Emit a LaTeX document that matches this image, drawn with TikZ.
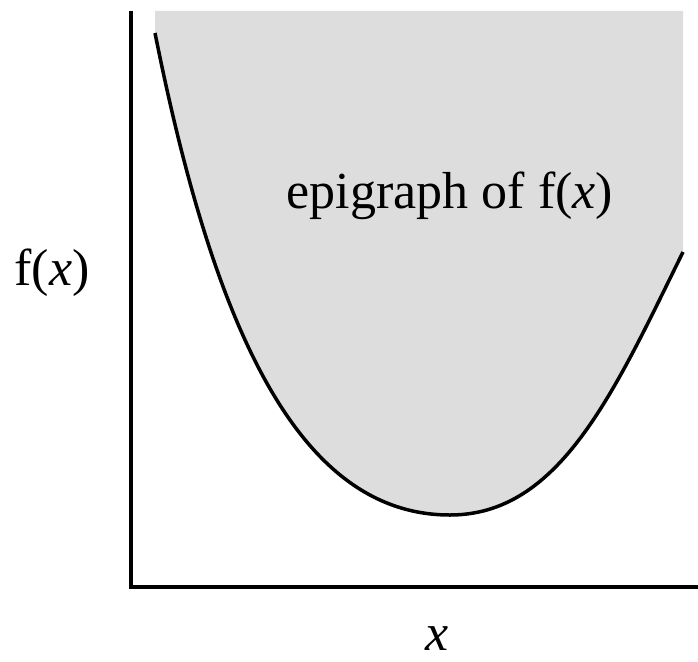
\documentclass[tikz,border=0pt]{standalone}
\usepackage{fontspec}
\setmainfont{Liberation Serif}
\definecolor{epigray}{RGB}{221,221,221}
\tikzset{
  axis/.style={line width=4pt, line join=miter},
  curve/.style={line width=3.5pt},
  label/.style={font=\fontsize{52}{60}\selectfont, inner sep=0pt, anchor=base}
}
\begin{document}
\begin{tikzpicture}[x=1pt,y=-1pt]
    \useasboundingbox (0,0) rectangle (698,661);

    % Points on the curve
    \coordinate (start) at (155,33);
    \coordinate (minpt) at (450,515);
    \coordinate (stop) at (683,252);

    % Shaded epigraph
    \fill[epigray] (155,11) -- (start) .. controls (215,333) and (300,515) .. (minpt)
        .. controls (560,515) and (614,392) .. (stop) -- (683,11) -- cycle;

    % Draw curve
    \draw[curve] (start) .. controls (215,333) and (300,515) .. (minpt)
        .. controls (560,515) and (614,392) .. (stop);

    % Draw axes
    \coordinate (ytop) at (131,11);
    \coordinate (origin) at (131,587);
    \coordinate (xend) at (698,587);
    \draw[axis] (ytop) -- (origin) -- (xend);

    % Labels
    \node[label] (epi) at (450,208) {epigraph of f(\textit{x})};
    \node[label] (flabel) at (52,285) {f(\textit{x})};
    \node[label] (xlabel) at (437,650) {\textit{x}};

\end{tikzpicture}
\end{document}
